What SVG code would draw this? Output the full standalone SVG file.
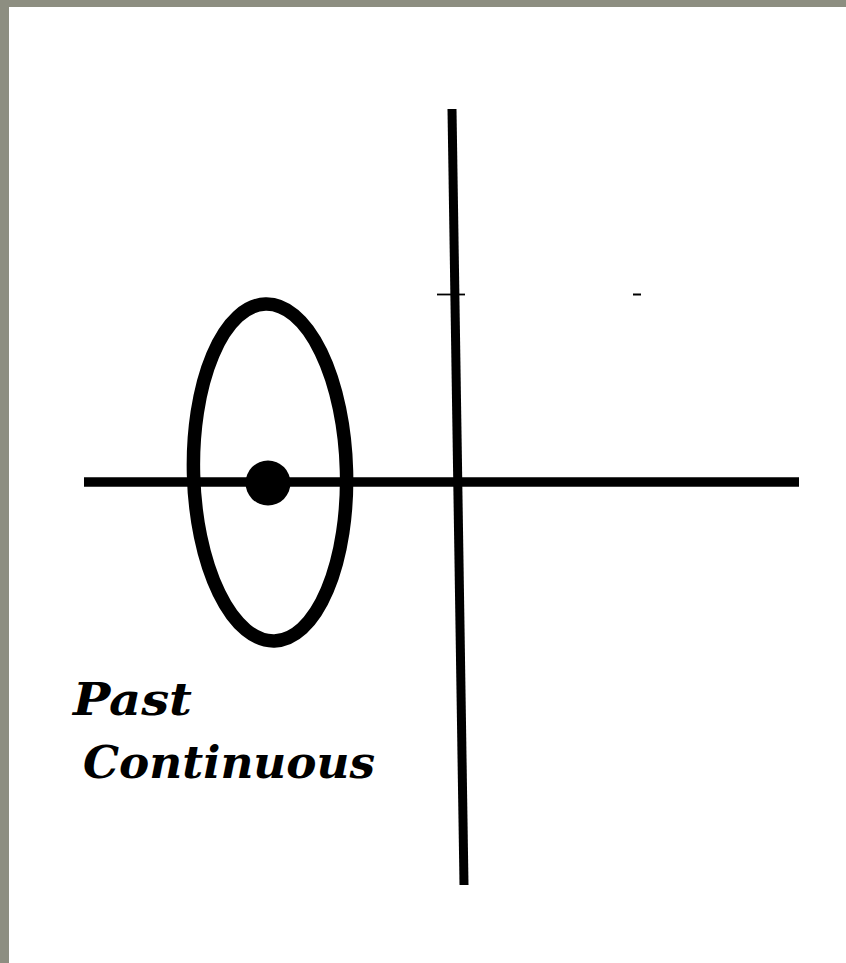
<svg xmlns="http://www.w3.org/2000/svg" width="846" height="963" viewBox="0 0 846 963">
<style>
.ln{stroke:#000;fill:none;stroke-linecap:butt}
.lbl{font-family:"DejaVu Serif",serif;font-weight:bold;font-style:italic;font-size:44px;fill:#000}
</style>
<rect x="0" y="0" width="846" height="963" fill="#ffffff"/>
<rect x="0" y="0" width="846" height="7" fill="#8d8e81"/>
<rect x="0" y="0" width="9" height="963" fill="#8d8e81"/>
<g id="connectors">
<line class="ln" stroke-width="9.5" x1="84" y1="482" x2="799" y2="482"/>
<line class="ln" stroke-width="9" x1="452" y1="109" x2="464" y2="885"/>
<line class="ln" stroke-width="1.8" x1="437" y1="294.5" x2="465" y2="294.5"/>
<line class="ln" stroke-width="2" x1="633" y1="294.5" x2="641" y2="294.5"/>
</g>
<g id="ellipse">
<ellipse class="ln" stroke-width="13.5" cx="270" cy="472.5" rx="76.5" ry="168.5" transform="rotate(-1.5 270 472.5)"/>
</g>
<g id="dot">
<circle cx="268" cy="483" r="22.5" fill="#000"/>
</g>
<g id="label">
<text class="lbl" x="73" y="715" textLength="119" lengthAdjust="spacingAndGlyphs">Past</text>
<text class="lbl" x="83" y="778" textLength="292" lengthAdjust="spacingAndGlyphs">Continuous</text>
</g>
</svg>
